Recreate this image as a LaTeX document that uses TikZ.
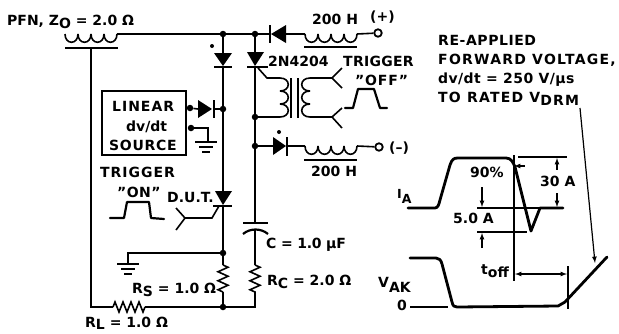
\documentclass[tikz,border=0pt]{standalone}
\usepackage{fontspec}
\setmainfont{DejaVu Sans}
\usetikzlibrary{calc}
\usetikzlibrary{decorations.pathmorphing}
\newcommand{\sbs}[1]{\raisebox{-3pt}{#1}}
\newcommand{\spc}[1]{\addfontfeature{LetterSpace=#1}}
\newcommand{\hcoil}[1]{\foreach \k in {0,1,2,3} \draw[wire] ($(#1)+(\k*13,0)$) .. controls +(0,11) and +(0,11) .. +(13,0);}
\newcommand{\vcoil}[2]{\foreach \k in {0,1,2} \draw[wire] ($(#1)+(0,\k*13)$) .. controls +(#2,0) and +(#2,0) .. +(0,13);}
\newcommand{\gndsym}[1]{\draw[wire] ($(#1)+(-11,0)$) -- +(22,0); \draw[wire] ($(#1)+(-7,5)$) -- +(14,0); \draw[wire] ($(#1)+(-4,10)$) -- +(8,0);}
\newcommand{\plug}[4]{\draw[wire] (#1) -- +(#2,#3) (#1) -- +(#2,#4);}
\tikzset{
    wire/.style={line width=1.6pt},
    bar/.style={line width=2.2pt},
    trace/.style={line width=2.8pt,line join=round,line cap=round},
    dimline/.style={line width=1.2pt},
    lab/.style={font=\bfseries\fontsize{14}{16}\selectfont,inner sep=0pt,anchor=base west},
    junc/.style={circle,fill,inner sep=0pt,minimum size=6.5pt},
    term/.style={circle,draw,line width=1.8pt,fill=white,inner sep=0pt,minimum size=7.5pt},
    zig/.style={wire,decorate,decoration={zigzag,segment length=#1,amplitude=5pt}}
}
\begin{document}
\begin{tikzpicture}[x=1pt,y=-1pt,>=latex]
    \useasboundingbox (0,0) rectangle (619,333);
    \node[lab] (pfn) at (7,25) {PFN, Z\sbs{O} = 2.0 Ω};
    \node[lab] (top200) at (312,24) {200 H};
    \node[lab] (plus) at (370,21) {(+)};
    \node[lab] (scr) at (268,66) {2N4204};
    \node[lab] (trigoff) at (343,66) {\spc{2}TRIGGER};
    \node[lab] (off) at (355,85) {\spc{6}"OFF"};
    \node[lab] (minus) at (389,152) {(--)};
    \node[lab] (bot200) at (311,176) {200 H};
    \node[lab] (trigon) at (100,177) {\spc{7}TRIGGER};
    \node[lab] (on) at (117,197) {\spc{3}"ON"};
    \node[lab] (dut) at (167,202) {D.U.T.};
    \node[lab] (cval) at (266,248) {\spc{-2}C = 1.0 µF};
    \node[lab] (rcval) at (267,285) {R\sbs{C} = 2.0 Ω};
    \node[lab] (rsval) at (132,293) {R\sbs{S} = 1.0 Ω};
    \node[lab] (rlval) at (85,327) {R\raisebox{-2pt}{L} = 1.0 Ω};
    \node[draw,line width=1.7pt,minimum width=84pt,minimum height=64pt,inner sep=0pt] (box) at (144,123) {};
    \node[lab] (lin) at (112,111) {\spc{7}LINEAR};
    \node[lab] (dvdt) at (126,131) {dv/dt};
    \node[lab] (src) at (109,150) {\spc{5}SOURCE};
    \node[lab] (re) at (438,45) {\spc{4}RE-APPLIED};
    \node[lab] (fw) at (438,64) {\spc{9}FORWARD VOLTAGE,};
    \node[lab] (rate) at (438,83) {\spc{3}dv/dt = 250 V/µs};
    \node[lab] (rated) at (438,102) {\spc{9}TO RATED V\sbs{DRM}};
    \node[lab,font=\bfseries\fontsize{12.5}{14}\selectfont] (ia) at (397,198) {I\raisebox{-5pt}{A}};
    \node[lab] (vak) at (378,287) {V\raisebox{-5pt}{AK}};
    \node[lab] (zero) at (397,310) {0};
    \node[lab] (pct) at (470,177) {90\%};
    \node[lab] (tirty) at (540,186) {30 A};
    \node[lab] (five) at (453,223) {5.0 A};
    \node[lab] (toff) at (481,274) {t\sbs{off}};
    \coordinate (pfnl) at (65,34);
    \coordinate (pfnr) at (117,34);
    \coordinate (corel) at (65,48);
    \coordinate (corer) at (118,48);
    \coordinate (corem) at (91,48);
    \coordinate (blc) at (91,307);
    \node[junc] (ja) at (223,34) {};
    \node[junc] (jb) at (255,34) {};
    \node[junc] (jc) at (223,109) {};
    \node[junc] (jd) at (255,117) {};
    \node[junc] (je) at (255,146) {};
    \node[junc] (jf) at (223,253) {};
    \node[junc] (jg) at (223,307) {};
    \node[junc] (jh) at (190,108) {};
    \node[junc] (ji) at (191,128) {};
    \coordinate (brc) at (255,307);
    \draw[wire] (pfnr) -- (ja) -- (jb) -- (270,34);
    \hcoil{pfnl}
    \draw[bar] (corel) -- (corer);
    \draw[wire] (corem) -- (blc) -- (113,307);
    \draw[zig=8pt] (113,307) -- (145,307);
    \draw[wire] (145,307) -- (jg) -- (brc) -- (255,293);
    \draw[wire] (ja) -- (223,53);
    \fill (214,53) -- (232,53) -- (223,66) -- cycle;
    \draw[bar] (214,67) -- (232,67);
    \fill (212,46) circle (2pt);
    \draw[wire] (223,67) -- (jc) -- (223,191);
    \fill (215,191) -- (232,191) -- (223,205) -- cycle;
    \draw[bar] (213,206) -- (232,206);
    \draw[wire] (223,206) -- (jf) -- (223,265);
    \draw[zig=9pt] (223,265) -- (223,292);
    \draw[wire] (223,292) -- (jg);
    \draw[wire] (219,206) -- (212,218) -- (185,218);
    \plug{185,218}{-9}{-10}{12}
    \draw[trace,line width=2.2pt] (110,218) -- (124,218) -- (127,202) -- (149,202) -- (151,218) -- (164,219);
    \draw[wire] (jf) -- (128,253) -- (128,264);
    \gndsym{128,264}
    \draw[wire] (jh) -- (198,109);
    \fill (198,100) -- (198,118) -- (212,109) -- cycle;
    \draw[bar] (214,100) -- (214,118);
    \draw[wire] (214,109) -- (jc);
    \draw[wire] (ji) -- (208,128) -- (208,142);
    \gndsym{206,142}
    \draw[wire] (jb) -- (255,52);
    \fill (247,52) -- (264,52) -- (255,66) -- cycle;
    \draw[bar] (247,67) -- (268,67);
    \draw[wire] (255,67) -- (jd) -- (je) -- (255,223);
    \draw[bar] (243,223) -- (268,223);
    \draw[bar] (243,234) .. controls (250,228) and (261,228) .. (268,234);
    \draw[wire] (255,229) -- (255,265);
    \draw[zig=9pt] (255,265) -- (255,293);
    \fill (286,25) -- (286,43) -- (271,34) -- cycle;
    \draw[bar] (270,25) -- (270,43);
    \draw[wire] (286,34) -- (305,34);
    \coordinate (coila) at (305,34);
    \hcoil{coila}
    \draw[bar] (304,47) -- (357,47);
    \node[term] (tplus) at (378,33) {};
    \draw[wire] (357,34) -- (tplus);
    \draw[wire] (je) -- (273,146);
    \fill (273,137) -- (273,155) -- (286,146) -- cycle;
    \draw[bar] (287,137) -- (287,156);
    \fill (279,132) circle (2pt);
    \draw[wire] (287,146) -- (305,146);
    \coordinate (coilb) at (305,146);
    \hcoil{coilb}
    \draw[bar] (304,160) -- (357,160);
    \node[term] (tminus) at (379,147) {};
    \draw[wire] (357,146) -- (tminus);
    \draw[wire] (258,68) -- (267,78) -- (280,78);
    \coordinate (prim) at (280,78);
    \vcoil{prim}{11}
    \draw[wire] (280,117) -- (jd);
    \draw[wire] (291,78) -- (291,118);
    \draw[wire] (298,78) -- (298,118);
    \coordinate (sec) at (310,78);
    \vcoil{sec}{-11}
    \draw[wire] (sec) -- (332,78);
    \plug{332,78}{10}{-10}{10}
    \draw[wire] (310,117) -- (332,117);
    \plug{332,117}{10}{-9}{11}
    \draw[trace,line width=2.2pt] (345,108) -- (353,108) -- (358,89) -- (374,89) -- (380,108) -- (387,108);
    \draw[trace] (408,208) -- (435,208) .. controls (438,208) and (439,204) .. (440,200) -- (450,165) .. controls (452,159) and (454,158) .. (458,158) -- (506,158) .. controls (511,158) and (513,162) .. (515,167) -- (531,231) -- (540,208) -- (563,208);
    \draw[trace] (410,258) -- (436,258) .. controls (439,258) and (441,260) .. (442,264) -- (452,302) .. controls (453,306) and (454,307) .. (457,307) -- (558,306) -- (565,302) -- (607,257);
    \draw[wire] (410,307) -- (448,307);
    \draw[dimline] (514,155) -- (514,281);
    \draw[dimline,<-] (514,166) -- (525,166);
    \draw[dimline] (518,157) -- (567,157);
    \draw[dimline,<-] (557,158) -- (557,170);
    \draw[dimline,->] (557,193) -- (557,207);
    \draw[dimline] (477,208) -- (540,208);
    \draw[dimline] (477,232) -- (527,232);
    \draw[dimline,->] (482,187) -- (482,207);
    \draw[dimline,->] (482,248) -- (482,233);
    \draw[dimline,<->] (515,274) -- (567,274);
    \draw[dimline] (568,266) -- (568,309);
    \draw[dimline,->] (580,108) -- (595,263);
\end{tikzpicture}
\end{document}
